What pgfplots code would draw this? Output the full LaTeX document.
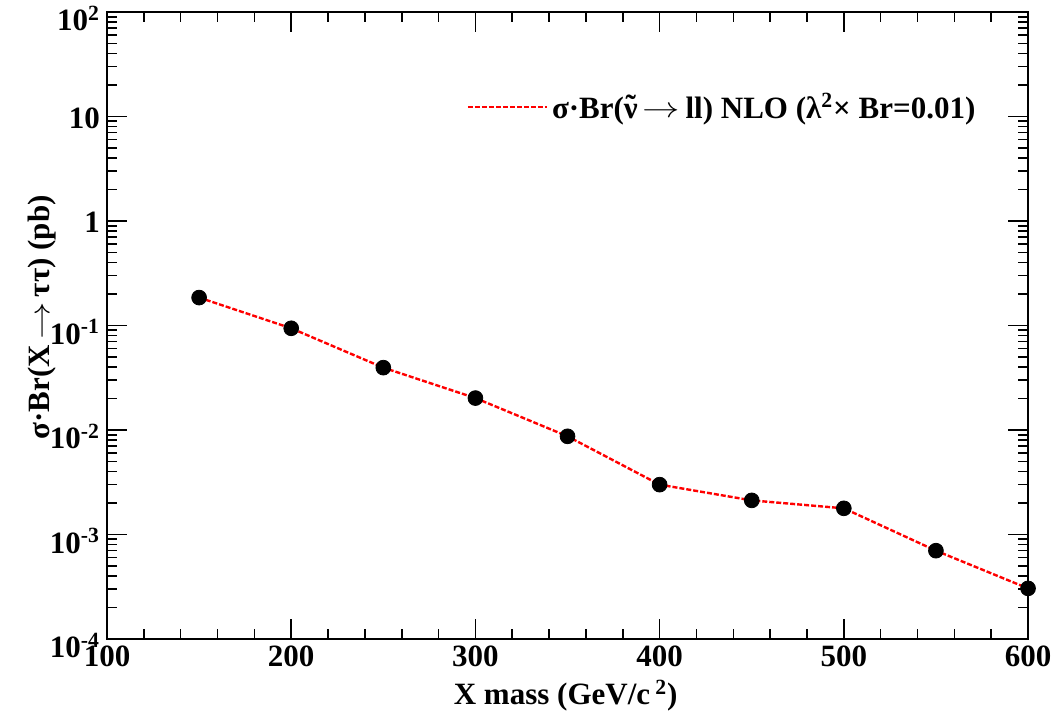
\documentclass[border=0pt]{standalone}
\usepackage{fontspec}
\setmainfont{Liberation Serif}
\usepackage{pgfplots}
\pgfplotsset{compat=1.18}
\newcommand\tnu{\ooalign{ν\cr\hidewidth\raisebox{0.15ex}{\char"02DC}\hidewidth\cr}}
\newcommand\arr{\,\raisebox{0.05ex}{\scalebox{1.3}[1]{$\rightarrow$}}\,}
\newcommand\ex[1]{\raisebox{-2.5pt}[\height][\depth]{10\textsuperscript{#1}}}
\begin{document}
\begin{tikzpicture}
\begin{axis}[
  scale only axis,
  width=460.5pt, height=313.5pt,
  xmin=100, xmax=600,
  ymode=log, ymin=1e-4, ymax=1e2,
  xtick={100,200,300,400,500,600},
  minor x tick num=4,
  ytick={1e-4,1e-3,1e-2,1e-1,1,10,100},
  yticklabels={\ex{-4},\ex{-3},\ex{-2},\ex{-1},1,10,\ex{2}},
  yticklabel style={yshift=-0.8pt},
  /pgf/number format/assume math mode=true,
  /pgf/number format/1000 sep={},
  tick align=inside,
  major tick length=10pt, minor tick length=5pt,
  tick style={line width=0.8pt, black},
  axis line style={line width=1pt},
  tick label style={font=\fontsize{15.5}{18}\selectfont\bfseries},
  label style={font=\fontsize{15.5}{18}\selectfont\bfseries},
  xlabel={X mass (GeV/c\,\textsuperscript{2})},
  ylabel={σ·Br(X\arr ττ) (pb)},
  xlabel style={at={(axis description cs:0.498,-0.105)}, anchor=base},
  ylabel style={at={(axis description cs:-0.0619,0.513)}, anchor=base},
  legend style={at={(rel axis cs:0.390,0.848)}, anchor=west, draw=none, fill=none,
    font=\fontsize{15.5}{18}\selectfont\bfseries, inner sep=0pt},
  legend cell align=left,
  legend image code/.code={\draw[#1] (0pt,0pt) -- (39.5pt,0pt);},
]
\addplot[red, line width=1.2pt, dash pattern=on 2.5pt off 1pt] coordinates {
  (150,0.185) (200,0.094) (250,0.0395) (300,0.0202) (350,0.0087)
  (400,0.0030) (450,0.00212) (500,0.00178) (550,0.00070) (600,0.000305)
};
\addlegendentry{σ·Br(\tnu\arr ll) NLO (λ\textsuperscript{2}× Br=0.01)}
\addplot[only marks, mark=*, mark size=3.7pt, black, forget plot] coordinates {
  (150,0.185) (200,0.094) (250,0.0395) (300,0.0202) (350,0.0087)
  (400,0.0030) (450,0.00212) (500,0.00178) (550,0.00070) (600,0.000305)
};
\coordinate (bbll) at (rel axis cs:-0.1162,-0.1212);
\coordinate (bbur) at (rel axis cs:1.0293,1.0191);
\end{axis}
\pgfresetboundingbox
\path (bbll) rectangle (bbur);
\end{tikzpicture}
\end{document}
